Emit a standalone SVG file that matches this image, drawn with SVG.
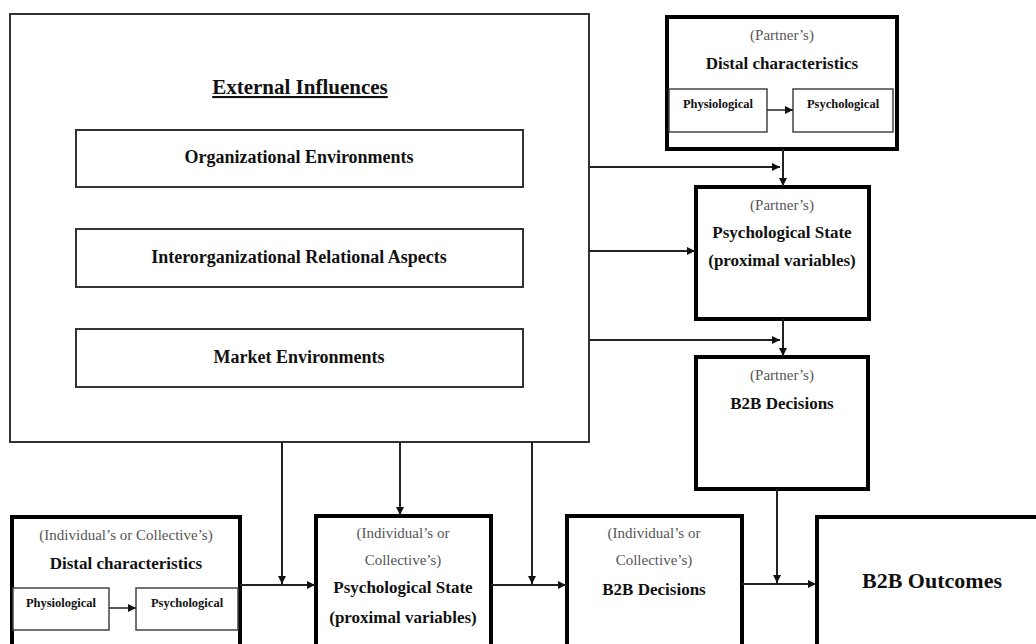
<svg xmlns="http://www.w3.org/2000/svg" width="1036" height="644" viewBox="0 0 1036 644">
<defs>
<marker id="ah" viewBox="0 0 10 10" refX="10" refY="5" markerWidth="8" markerHeight="8" markerUnits="userSpaceOnUse" orient="auto">
<path d="M0,0 L10,5 L0,10 z" fill="#111"/>
</marker>
<style>
.outer{fill:#fff;stroke:#333;stroke-width:2}
.env{fill:#fff;stroke:#333;stroke-width:2}
.node{fill:#fff;stroke:#000;stroke-width:4}
.sub{fill:#fff;stroke:#444;stroke-width:1.5}
.conn{fill:none;stroke:#222;stroke-width:2}
.sconn{fill:none;stroke:#222;stroke-width:1.5}
text{font-family:"Liberation Serif","Times New Roman",serif;text-anchor:middle;fill:#111}
.b{font-weight:bold;font-size:17px}
.e{font-weight:bold;font-size:18px}
.p{font-size:15px;fill:#555}
.s{font-weight:bold;font-size:12.5px}
</style>
</defs>
<rect width="1036" height="644" fill="#fff"/>

<g id="external">
<rect class="outer" x="10" y="14" width="579" height="428"/>
<text x="300" y="94" style="font-weight:bold;font-size:21px;text-decoration:underline">External Influences</text>
</g>
<g id="org-env">
<rect class="env" x="76" y="130" width="447" height="57"/>
<text class="e" x="299" y="163">Organizational Environments</text>
</g>
<g id="interorg">
<rect class="env" x="76" y="229" width="447" height="58"/>
<text class="e" x="299" y="263">Interorganizational Relational Aspects</text>
</g>
<g id="market-env">
<rect class="env" x="76" y="329" width="447" height="58"/>
<text class="e" x="299" y="363">Market Environments</text>
</g>

<g id="partner-distal">
<rect class="node" x="667" y="17" width="230" height="132"/>
<text class="p" x="782" y="40">(Partner’s)</text>
<text class="b" x="782" y="69">Distal characteristics</text>
<rect class="sub" x="669" y="89" width="98" height="43"/>
<text class="s" x="718" y="108">Physiological</text>
<rect class="sub" x="793" y="89" width="100" height="43"/>
<text class="s" x="843" y="108">Psychological</text>
<path class="sconn" d="M767,110 H793" marker-end="url(#ah)"/>
</g>

<g id="partner-psych">
<rect class="node" x="696" y="187" width="173" height="132"/>
<text class="p" x="782" y="210">(Partner’s)</text>
<text class="b" x="782" y="238">Psychological State</text>
<text class="b" x="782" y="266">(proximal variables)</text>
</g>

<g id="partner-b2b">
<rect class="node" x="696" y="357" width="172" height="132"/>
<text class="p" x="782" y="380">(Partner’s)</text>
<text class="b" x="782" y="409">B2B Decisions</text>
</g>

<g id="indiv-distal">
<rect class="node" x="12" y="517" width="228" height="150"/>
<text class="p" x="126" y="540">(Individual’s or Collective’s)</text>
<text class="b" x="126" y="569">Distal characteristics</text>
<rect class="sub" x="13" y="588" width="96" height="42"/>
<text class="s" x="61" y="607">Physiological</text>
<rect class="sub" x="136" y="588" width="102" height="42"/>
<text class="s" x="187" y="607">Psychological</text>
<path class="sconn" d="M109,608 H136" marker-end="url(#ah)"/>
</g>

<g id="indiv-psych">
<rect class="node" x="316" y="516" width="175" height="150"/>
<text class="p" x="403" y="538">(Individual’s or</text>
<text class="p" x="403" y="565">Collective’s)</text>
<text class="b" x="403" y="593">Psychological State</text>
<text class="b" x="403" y="623">(proximal variables)</text>
</g>

<g id="indiv-b2b">
<rect class="node" x="567" y="516" width="175" height="150"/>
<text class="p" x="654" y="538">(Individual’s or</text>
<text class="p" x="654" y="565">Collective’s)</text>
<text class="b" x="654" y="595">B2B Decisions</text>
</g>

<g id="outcomes">
<rect class="node" x="817" y="517" width="240" height="150"/>
<text x="932" y="588" style="font-weight:bold;font-size:22px">B2B Outcomes</text>
</g>

<g id="connectors">
<path class="conn" d="M589,167 H780" marker-end="url(#ah)"/>
<path class="conn" d="M783,149 V186" marker-end="url(#ah)"/>
<path class="conn" d="M589,251 H695" marker-end="url(#ah)"/>
<path class="conn" d="M589,340 H780" marker-end="url(#ah)"/>
<path class="conn" d="M783,319 V356" marker-end="url(#ah)"/>
<path class="conn" d="M282,442 V584" marker-end="url(#ah)"/>
<path class="conn" d="M240,585 H315" marker-end="url(#ah)"/>
<path class="conn" d="M400,442 V515" marker-end="url(#ah)"/>
<path class="conn" d="M532,442 V584" marker-end="url(#ah)"/>
<path class="conn" d="M491,585 H566" marker-end="url(#ah)"/>
<path class="conn" d="M777,489 V583" marker-end="url(#ah)"/>
<path class="conn" d="M742,584 H816" marker-end="url(#ah)"/>
</g>
</svg>
